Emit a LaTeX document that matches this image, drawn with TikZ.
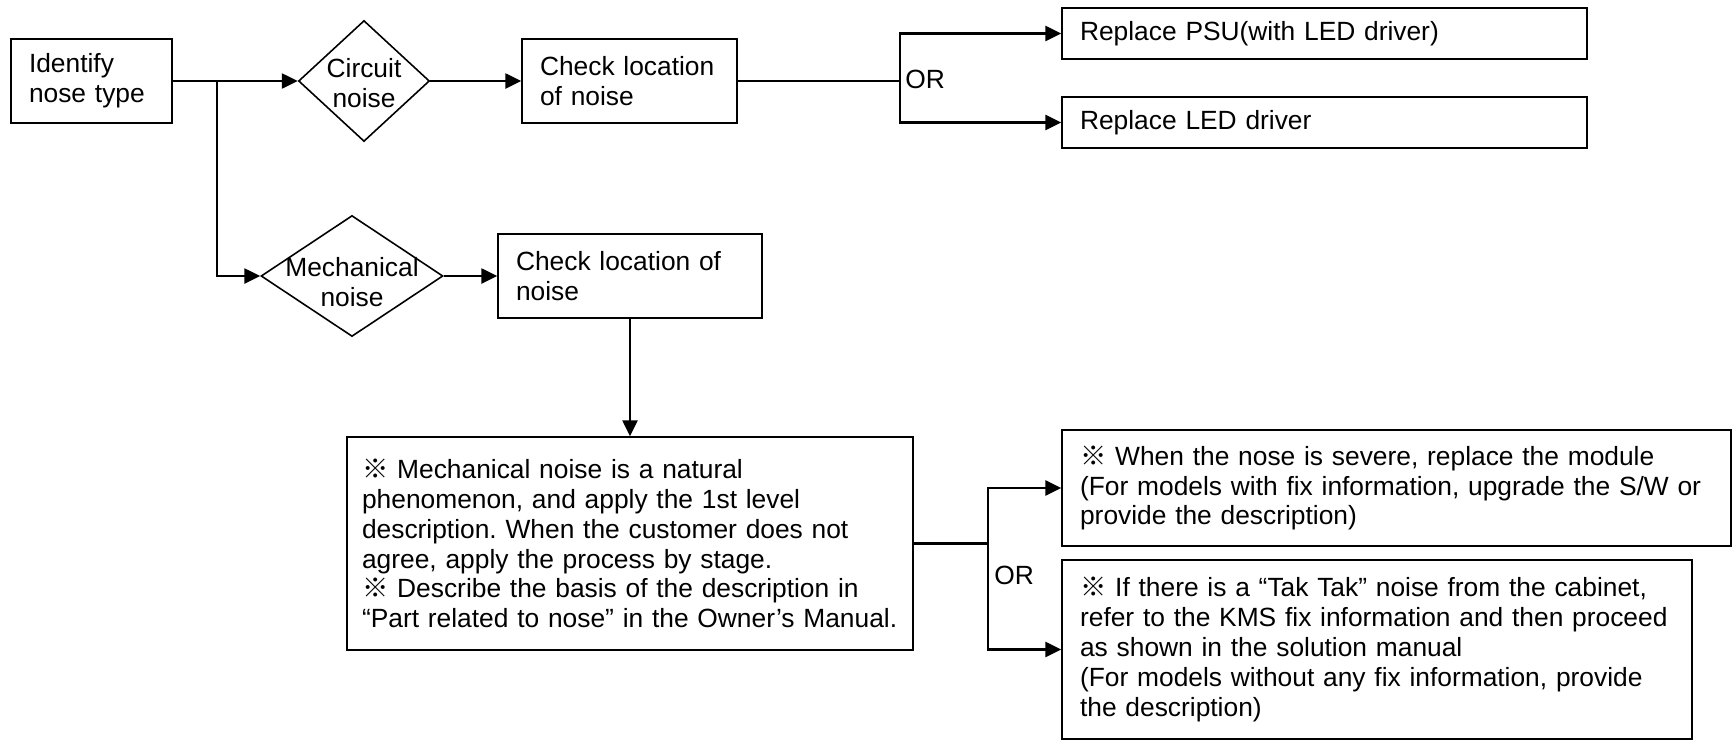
\documentclass[tikz,border=0pt]{standalone}
\usepackage{fontspec}
\setmainfont{Liberation Sans}
\newfontfamily\cjk{Noto Sans CJK SC}
\usepackage{tikz}
\usetikzlibrary{arrows.meta,shapes.geometric}
\frenchspacing
\newcommand{\fs}{\fontsize{15pt}{17pt}\selectfont}
\newcommand{\rmark}{{\cjk ※}}
\tikzset{
  pbox/.style={draw,line width=0.9pt,align=left,font=\fs,inner xsep=0.36cm,inner ysep=0pt},
  dia/.style={diamond,draw,line width=0.9pt,inner sep=0pt},
  dlbl/.style={font=\fs,align=center,inner sep=0pt},
  orlbl/.style={font=\fs,anchor=west,inner sep=0pt},
  arr/.style={-{Triangle[length=9pt,width=8.5pt]},line width=1.3pt},
  ln/.style={line width=1.3pt},
}

\begin{document}
\begin{tikzpicture}[x=0.02cm,y=-0.02cm]
  \useasboundingbox (0,0) rectangle (1734,741);
  % top row: circuit noise
  \node[pbox,minimum width=3.22cm,minimum height=1.68cm,text width=2.50cm] (ident) at (91.5,81) {Identify\\nose type};
  \node[dia,minimum width=2.62cm,minimum height=2.42cm,label={[dlbl,yshift=-0.05cm]center:Circuit\\noise}] (circ) at (364,81) {};
  \node[pbox,minimum width=4.30cm,minimum height=1.68cm,text width=3.58cm] (chkc) at (629.5,81) {Check location\\of noise};
  \node[pbox,minimum width=10.5cm,minimum height=1.02cm,text width=9.78cm] (psu) at (1324.5,33.5) {Replace PSU(with LED driver)};
  \node[pbox,minimum width=10.5cm,minimum height=1.02cm,text width=9.78cm] (led) at (1324.5,122.5) {Replace LED driver};
  % lower part: mechanical noise
  \node[dia,minimum width=3.64cm,minimum height=2.42cm,label={[dlbl,yshift=-0.13cm]center:Mechanical\\noise}] (mech) at (352,276) {};
  \node[pbox,minimum width=5.28cm,minimum height=1.68cm,text width=4.56cm] (chkm) at (630,276) {Check location of\\noise};
  \node[pbox,inner xsep=0.3cm,minimum width=11.32cm,minimum height=4.26cm,text width=10.72cm] (note) at (630,543.5)
    {\rmark{} Mechanical noise is a natural\\phenomenon, and apply the 1st level\\description. When the customer does not\\agree, apply the process by stage.\\\rmark{} Describe the basis of the description in\\\mbox{“Part related to nose” in the Owner’s Manual.}};
  \node[pbox,minimum width=13.38cm,minimum height=2.32cm,text width=12.66cm] (sevr) at (1396.5,488)
    {{\cjk\bfseries ※} When the nose is severe, replace the module\\(For models with fix information, upgrade the S/W or\\provide the description)};
  \node[pbox,minimum width=12.6cm,minimum height=3.58cm,text width=11.88cm] (tak) at (1377,649.5)
    {\rmark{} If there is a “Tak Tak” noise from the cabinet,\\refer to the KMS fix information and then proceed\\as shown in the solution manual\\(For models without any fix information, provide\\the description)};
  \coordinate (split) at (217,81);
  \coordinate (orc) at (900,81);
  \coordinate (orm) at (988,543.5);
  \node[orlbl] (ortop) at (905,79) {OR};
  \node[orlbl] (orbot) at (994,575) {OR};
  % connectors
  \draw[arr] (ident.east) -- (circ.west);
  \draw[arr] (split) |- (mech.west);
  \draw[arr] (circ.east) -- (chkc.west);
  \draw[ln] (chkc.east) -- (orc);
  \draw[arr] (orc) |- (psu.west);
  \draw[arr] (orc) |- (led.west);
  \draw[arr] (mech.east) -- (chkm.west);
  \draw[arr] (chkm.south) -- (note.north);
  \draw[ln] (note.east) -- (orm);
  \draw[arr] (orm) |- (sevr.west);
  \draw[arr] (orm) |- (tak.west);
\end{tikzpicture}
\end{document}
